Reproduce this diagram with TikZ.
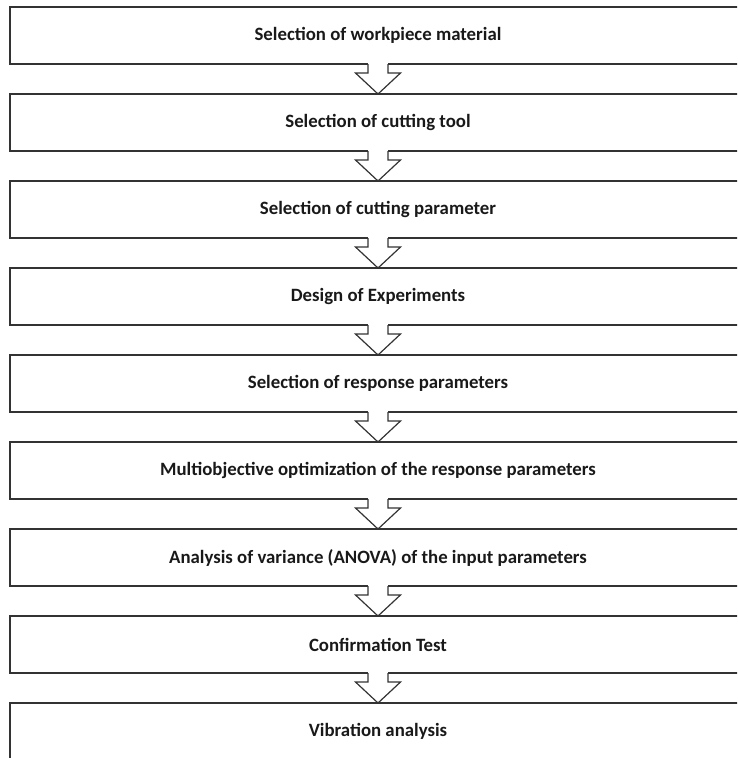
\documentclass[tikz,border=0pt]{standalone}
\usepackage{fontspec}
\setmainfont{Carlito}
\usepackage{tikz}
\usetikzlibrary{positioning,calc}
\tikzstyle{block} = [rectangle,draw=black!80,line width=1.2pt,minimum width=736pt,minimum height=57pt,outer sep=0pt,inner sep=0pt,align=center,font=\fontsize{18.8}{22}\selectfont\bfseries,text=black!90]
\tikzstyle{flow} = [draw=black!80,line width=1.2pt,line join=miter]
% hollow block arrow from the bottom of #1 to the top of #2
\newcommand{\flowarrow}[2]{%
  \fill[white] ($(#1.south)+(-10pt,1pt)$) rectangle ($(#1.south)+(10pt,-1pt)$);
  \draw[flow] ($(#1.south)+(-10pt,0pt)$) -- ++(0pt,-9pt) -- ++(-12.5pt,0pt) -- (#2.north)
    -- ($(#1.south)+(22.5pt,-9pt)$) -- ++(-12.5pt,0pt) -- ++(0pt,9pt);
}

\begin{document}
\begin{tikzpicture}[x=1pt,y=1pt,node distance=30pt]
        \useasboundingbox (0,0) rectangle (737,-758);
        \clip (0,0) rectangle (737,-758);
        \node[block,anchor=north west] (mat) at (10,-7) {Selection of workpiece material};
        \node[block,below=of mat] (tool) {Selection of cutting tool};
        \node[block,below=of tool] (par) {Selection of cutting parameter};
        \node[block,below=of par] (doe) {Design of Experiments};
        \node[block,below=of doe] (resp) {Selection of response parameters};
        \node[block,below=of resp] (opt) {Multiobjective optimization of the response parameters};
        \node[block,below=of opt] (anova) {Analysis of variance (ANOVA) of the input parameters};
        \node[block,below=of anova] (conf) {Confirmation Test};
        \node[block,below=of conf] (vib) {Vibration analysis};
        \flowarrow{mat}{tool}
        \flowarrow{tool}{par}
        \flowarrow{par}{doe}
        \flowarrow{doe}{resp}
        \flowarrow{resp}{opt}
        \flowarrow{opt}{anova}
        \flowarrow{anova}{conf}
        \flowarrow{conf}{vib}
    \end{tikzpicture}
\end{document}
